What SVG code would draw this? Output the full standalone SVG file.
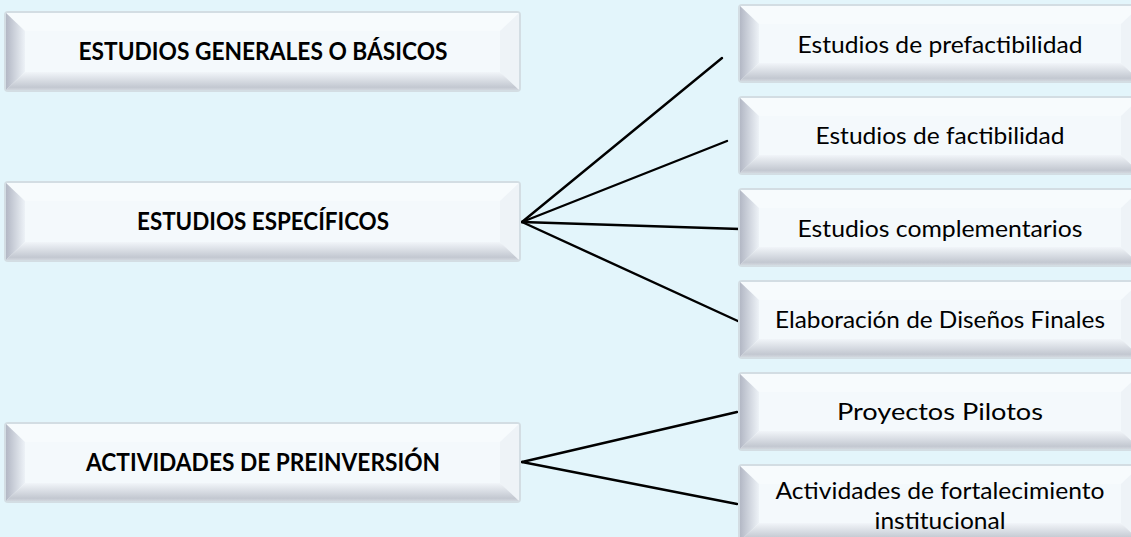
<svg xmlns="http://www.w3.org/2000/svg" width="1131" height="537" viewBox="0 0 1131 537">
<defs>
<linearGradient id="gl" x1="0" y1="0" x2="1" y2="0">
<stop offset="0" stop-color="#b3b8c5"/>
<stop offset="1" stop-color="#edf2f7"/>
</linearGradient>
<linearGradient id="gb" x1="0" y1="0" x2="0" y2="1">
<stop offset="0" stop-color="#f1f5f9"/>
<stop offset="0.85" stop-color="#c3c8d1"/>
<stop offset="1" stop-color="#d2d7de"/>
</linearGradient>
<style>
.bg{fill:#e3f5fb}
.outer{fill:#d3dde3}
.face{fill:#f4f9fc}
.lb{fill:url(#gl)}
.bb{fill:url(#gb)}
.rb{fill:#eef3f7}
.tb{fill:#f7fbfd}
.tl{font-family:Lato,"Open Sans","Liberation Sans",sans-serif;font-size:24px;font-weight:bold;fill:#000;text-anchor:middle}
.tr{font-family:Lato,"Open Sans","Liberation Sans",sans-serif;font-size:24px;fill:#000;text-anchor:middle}
.ln{stroke:#000;stroke-width:2.4;fill:none;stroke-linecap:round}
</style>
</defs>
<rect class="bg" x="0" y="0" width="1131" height="537"/>

<g id="connectors">
<line class="ln" x1="522" y1="222" x2="722" y2="58"/>
<line class="ln" x1="522" y1="222" x2="727" y2="141"/>
<line class="ln" x1="522" y1="222" x2="740" y2="229"/>
<line class="ln" x1="522" y1="222" x2="740" y2="322"/>
<line x1="740" y1="322" x2="752" y2="327" stroke="#8a8f96" stroke-width="2.2"/>
<line class="ln" x1="522" y1="462" x2="737" y2="412"/>
<line class="ln" x1="522" y1="462" x2="737" y2="504"/>
</g>

<g id="n1">
<rect class="outer" x="4" y="11" width="517" height="81" rx="4"/>
<rect class="face" x="6" y="13" width="513" height="77" rx="3"/>
<polygon class="tb" points="6,13 519,13 500,31 25,31"/>
<polygon class="rb" points="519,13 519,90 500,72 500,31"/>
<polygon class="lb" points="6,13 25,31 25,72 6,90"/>
<polygon class="bb" points="6,90 25,72 500,72 519,90"/>
<rect class="face" x="25" y="31" width="475" height="41"/>
<text class="tl" x="263" y="60" textLength="369" lengthAdjust="spacingAndGlyphs">ESTUDIOS GENERALES O BÁSICOS</text>
</g>

<g id="n2">
<rect class="outer" x="4" y="181" width="517" height="81" rx="4"/>
<rect class="face" x="6" y="183" width="513" height="77" rx="3"/>
<polygon class="tb" points="6,183 519,183 500,201 25,201"/>
<polygon class="rb" points="519,183 519,260 500,242 500,201"/>
<polygon class="lb" points="6,183 25,201 25,242 6,260"/>
<polygon class="bb" points="6,260 25,242 500,242 519,260"/>
<rect class="face" x="25" y="201" width="475" height="41"/>
<text class="tl" x="263" y="230" textLength="252" lengthAdjust="spacingAndGlyphs">ESTUDIOS ESPECÍFICOS</text>
</g>

<g id="n3">
<rect class="outer" x="4" y="422" width="517" height="81" rx="4"/>
<rect class="face" x="6" y="424" width="513" height="77" rx="3"/>
<polygon class="tb" points="6,424 519,424 500,442 25,442"/>
<polygon class="rb" points="519,424 519,501 500,483 500,442"/>
<polygon class="lb" points="6,424 25,442 25,483 6,501"/>
<polygon class="bb" points="6,501 25,483 500,483 519,501"/>
<rect class="face" x="25" y="442" width="475" height="41"/>
<text class="tl" x="263" y="471" textLength="354" lengthAdjust="spacingAndGlyphs">ACTIVIDADES DE PREINVERSIÓN</text>
</g>

<g id="r1">
<rect class="outer" x="738" y="4" width="404" height="79" rx="4"/>
<rect class="face" x="740" y="6" width="400" height="75" rx="3"/>
<polygon class="tb" points="740,6 1140,6 1121,24 759,24"/>
<polygon class="rb" points="1140,6 1140,81 1121,63 1121,24"/>
<polygon class="lb" points="740,6 759,24 759,63 740,81"/>
<polygon class="bb" points="740,81 759,63 1121,63 1140,81"/>
<rect class="face" x="759" y="24" width="362" height="39"/>
<text class="tr" x="940" y="53" textLength="285" lengthAdjust="spacingAndGlyphs">Estudios de prefactibilidad</text>
</g>

<g id="r2">
<rect class="outer" x="738" y="96" width="404" height="79" rx="4"/>
<rect class="face" x="740" y="98" width="400" height="75" rx="3"/>
<polygon class="tb" points="740,98 1140,98 1121,116 759,116"/>
<polygon class="rb" points="1140,98 1140,173 1121,155 1121,116"/>
<polygon class="lb" points="740,98 759,116 759,155 740,173"/>
<polygon class="bb" points="740,173 759,155 1121,155 1140,173"/>
<rect class="face" x="759" y="116" width="362" height="39"/>
<text class="tr" x="940" y="144" textLength="249" lengthAdjust="spacingAndGlyphs">Estudios de factibilidad</text>
</g>

<g id="r3">
<rect class="outer" x="738" y="188" width="404" height="79" rx="4"/>
<rect class="face" x="740" y="190" width="400" height="75" rx="3"/>
<polygon class="tb" points="740,190 1140,190 1121,208 759,208"/>
<polygon class="rb" points="1140,190 1140,265 1121,247 1121,208"/>
<polygon class="lb" points="740,190 759,208 759,247 740,265"/>
<polygon class="bb" points="740,265 759,247 1121,247 1140,265"/>
<rect class="face" x="759" y="208" width="362" height="39"/>
<text class="tr" x="940" y="237" textLength="285" lengthAdjust="spacingAndGlyphs">Estudios complementarios</text>
</g>

<g id="r4">
<rect class="outer" x="738" y="280" width="404" height="79" rx="4"/>
<rect class="face" x="740" y="282" width="400" height="75" rx="3"/>
<polygon class="tb" points="740,282 1140,282 1121,300 759,300"/>
<polygon class="rb" points="1140,282 1140,357 1121,339 1121,300"/>
<polygon class="lb" points="740,282 759,300 759,339 740,357"/>
<polygon class="bb" points="740,357 759,339 1121,339 1140,357"/>
<rect class="face" x="759" y="300" width="362" height="39"/>
<text class="tr" x="940" y="328" textLength="330" lengthAdjust="spacingAndGlyphs">Elaboración de Diseños Finales</text>
</g>

<g id="r5">
<rect class="outer" x="738" y="372" width="404" height="79" rx="4"/>
<rect class="face" x="740" y="374" width="400" height="75" rx="3"/>
<polygon class="tb" points="740,374 1140,374 1121,392 759,392"/>
<polygon class="rb" points="1140,374 1140,449 1121,431 1121,392"/>
<polygon class="lb" points="740,374 759,392 759,431 740,449"/>
<polygon class="bb" points="740,449 759,431 1121,431 1140,449"/>
<rect class="face" x="759" y="392" width="362" height="39"/>
<text class="tr" x="940" y="420" textLength="206" lengthAdjust="spacingAndGlyphs">Proyectos Pilotos</text>
</g>

<g id="r6">
<rect class="outer" x="738" y="464" width="404" height="79" rx="4"/>
<rect class="face" x="740" y="466" width="400" height="75" rx="3"/>
<polygon class="tb" points="740,466 1140,466 1121,484 759,484"/>
<polygon class="rb" points="1140,466 1140,541 1121,523 1121,484"/>
<polygon class="lb" points="740,466 759,484 759,523 740,541"/>
<polygon class="bb" points="740,541 759,523 1121,523 1140,541"/>
<rect class="face" x="759" y="484" width="362" height="39"/>
<text class="tr" x="940" y="499" textLength="329" lengthAdjust="spacingAndGlyphs">Actividades de fortalecimiento</text>
<text class="tr" x="940" y="529" textLength="131" lengthAdjust="spacingAndGlyphs">institucional</text>
</g>
</svg>
